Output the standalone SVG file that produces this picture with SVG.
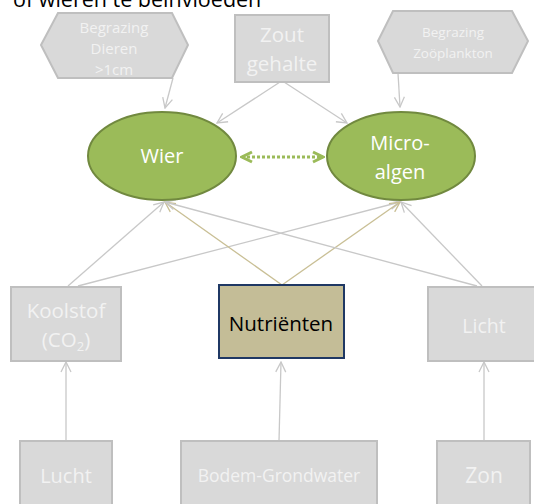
<svg xmlns="http://www.w3.org/2000/svg" width="534" height="504" viewBox="0 0 534 504">
  <style>
    text { font-family: "Open Sans", "Liberation Sans", sans-serif; text-anchor: middle; }
    .grey { fill: #d9d9d9; stroke: #bfbfbf; stroke-width: 2; }
    .lt { fill: #f2f2f2; }
    .algae { fill: #9bbb59; stroke: #71893f; stroke-width: 2; }
    .wt { fill: #ffffff; }
    .link { fill: none; stroke: #c8c8c8; stroke-width: 1.3; marker-end: url(#open); }
    .nut { fill: none; stroke: #c9bf95; stroke-width: 1.3; marker-end: url(#openTan); }
  </style>
  <defs>
    <marker id="open" viewBox="0 0 12 12" refX="11" refY="6" markerWidth="12" markerHeight="12" markerUnits="userSpaceOnUse" orient="auto">
      <path d="M1,1 L11,6 L1,11" fill="none" stroke="#c8c8c8" stroke-width="1.3"/>
    </marker>
    <marker id="openTan" viewBox="0 0 12 12" refX="11" refY="6" markerWidth="12" markerHeight="12" markerUnits="userSpaceOnUse" orient="auto">
      <path d="M1,1 L11,6 L1,11" fill="none" stroke="#c9bf95" stroke-width="1.3"/>
    </marker>
    <marker id="greenEnd" viewBox="0 0 14 14" refX="12" refY="7" markerWidth="14" markerHeight="14" markerUnits="userSpaceOnUse" orient="auto-start-reverse">
      <path d="M2,2 L12,7 L2,12" fill="none" stroke="#9bbb59" stroke-width="3"/>
    </marker>
  </defs>

  <!-- heading, partly cut off at the top edge -->
  <text x="13" y="6.5" style="text-anchor:start" font-size="21.5" fill="#000">of wieren te beïnvloeden</text>

  <g id="connectors">
    <line class="link" x1="173" y1="78" x2="165" y2="108"/>
    <line class="link" x1="280" y1="82" x2="217" y2="123"/>
    <line class="link" x1="284" y1="82" x2="347" y2="123"/>
    <line class="link" x1="398" y1="73" x2="400" y2="107"/>
    <line class="link" x1="68" y1="286" x2="164" y2="202"/>
    <line class="link" x1="78" y1="286" x2="400" y2="202"/>
    <line class="nut" x1="282" y1="285" x2="165" y2="202"/>
    <line class="nut" x1="282" y1="285" x2="400" y2="202"/>
    <line class="link" x1="477" y1="286" x2="165" y2="202"/>
    <line class="link" x1="482" y1="286" x2="401" y2="202"/>
    <line class="link" x1="66" y1="441" x2="66" y2="362"/>
    <line class="link" x1="279" y1="441" x2="281" y2="362"/>
    <line class="link" x1="484" y1="441" x2="484" y2="362"/>
    <line x1="242" y1="157" x2="323" y2="157" stroke="#9bbb59" stroke-width="3" stroke-dasharray="3 2" marker-start="url(#greenEnd)" marker-end="url(#greenEnd)"/>
  </g>

  <g id="begrazing-dieren">
    <polygon class="grey" points="41,45 58,13 172,13 188,45 172,78 58,78"/>
    <text class="lt" font-size="15" x="114" y="33">Begrazing</text>
    <text class="lt" font-size="15" x="114" y="54">Dieren</text>
    <text class="lt" font-size="15" x="114" y="75">&gt;1cm</text>
  </g>

  <g id="zoutgehalte">
    <rect class="grey" x="235" y="15" width="94" height="67"/>
    <text class="lt" font-size="20.5" x="282" y="42">Zout</text>
    <text class="lt" font-size="20.5" x="282" y="71">gehalte</text>
  </g>

  <g id="begrazing-zooplankton">
    <polygon class="grey" points="378,41 393,11 512,11 528,41 512,73 393,73"/>
    <text class="lt" font-size="13.5" x="453" y="37">Begrazing</text>
    <text class="lt" font-size="13.5" x="453" y="58">Zoöplankton</text>
  </g>

  <g id="wier">
    <ellipse class="algae" cx="162" cy="156" rx="74" ry="44"/>
    <text class="wt" font-size="20" x="162" y="163">Wier</text>
  </g>

  <g id="microalgen">
    <ellipse class="algae" cx="401" cy="156" rx="74" ry="44"/>
    <text class="wt" font-size="20" x="400" y="150">Micro-</text>
    <text class="wt" font-size="20" x="400" y="179">algen</text>
  </g>

  <g id="koolstof">
    <rect class="grey" x="11" y="287" width="110" height="74"/>
    <text class="lt" font-size="20.5" x="66" y="318">Koolstof</text>
    <text class="lt" font-size="20.5" x="66" y="347">(CO<tspan font-size="13" dy="4">2</tspan><tspan dy="-4">)</tspan></text>
  </g>

  <g id="nutrienten">
    <rect x="219" y="285" width="125" height="73" fill="#c4bd97" stroke="#1f3864" stroke-width="2"/>
    <text font-size="20.5" x="281" y="331" fill="#000">Nutriënten</text>
  </g>

  <g id="licht">
    <rect class="grey" x="428" y="287" width="120" height="74"/>
    <text class="lt" font-size="19.5" x="484" y="333">Licht</text>
  </g>

  <g id="lucht">
    <rect class="grey" x="20" y="441" width="92" height="80"/>
    <text class="lt" font-size="20" x="66" y="483">Lucht</text>
  </g>

  <g id="bodem-grondwater">
    <rect class="grey" x="181" y="441" width="196" height="80"/>
    <text class="lt" font-size="17.5" x="279" y="482">Bodem-Grondwater</text>
  </g>

  <g id="zon">
    <rect class="grey" x="437" y="441" width="93" height="80"/>
    <text class="lt" font-size="21" x="484" y="483">Zon</text>
  </g>
</svg>
